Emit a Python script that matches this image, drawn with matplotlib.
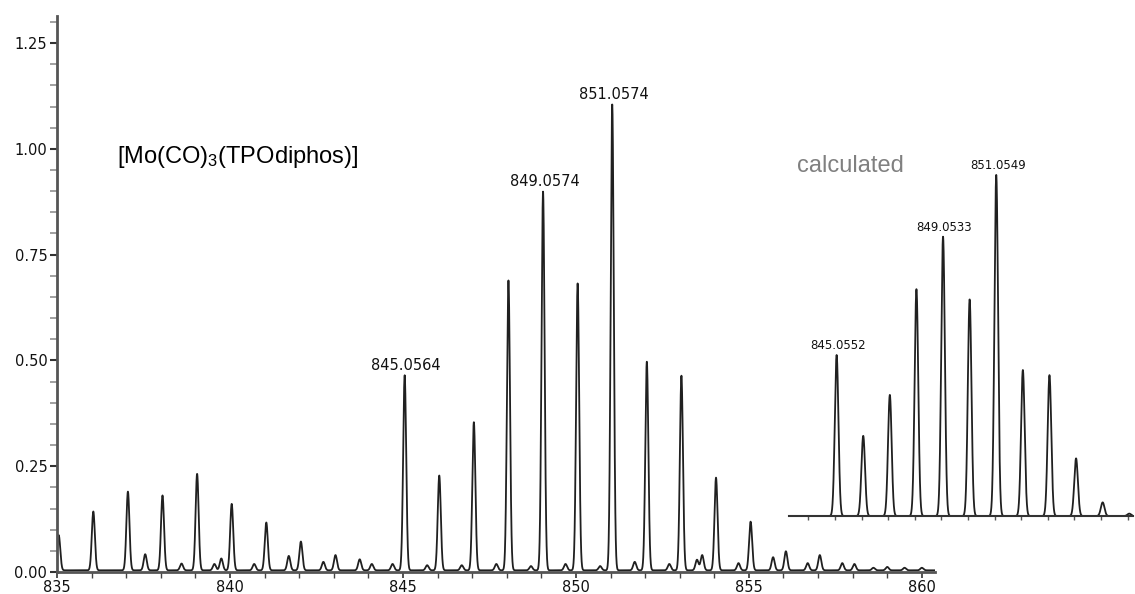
import numpy as np
import matplotlib
matplotlib.use("Agg")
import matplotlib.pyplot as plt
from matplotlib.ticker import MultipleLocator, FormatStrFormatter

# ---------------- data ----------------
# measured spectrum: peak centres (m/z) and intensities
meas_mz = [835.05, 836.05, 837.05, 837.55, 838.05, 838.6, 839.05, 839.55, 839.75,
           840.05, 840.7, 841.05, 841.7, 842.05, 842.7, 843.05, 843.75, 844.1, 844.7,
           845.05, 845.7, 846.05, 846.7, 847.05, 847.7, 848.05, 848.7, 849.05, 849.7,
           850.05, 850.7, 851.05, 851.7, 852.05, 852.7, 853.05, 853.5, 853.65, 854.05,
           854.7, 855.05, 855.7, 856.07, 856.7, 857.05, 857.7, 858.05, 858.6, 859.0,
           859.5, 860.0]
meas_int = [0.083, 0.139, 0.186, 0.038, 0.177, 0.016, 0.228, 0.015, 0.028,
            0.157, 0.015, 0.113, 0.034, 0.068, 0.020, 0.036, 0.026, 0.015, 0.015,
            0.461, 0.012, 0.224, 0.012, 0.350, 0.015, 0.685, 0.010, 0.895, 0.015,
            0.678, 0.010, 1.101, 0.020, 0.493, 0.015, 0.460, 0.025, 0.036, 0.219,
            0.017, 0.115, 0.031, 0.045, 0.017, 0.036, 0.017, 0.015, 0.006, 0.008,
            0.006, 0.006]
meas_labels = {845.05: "845.0564", 849.05: "849.0574", 851.05: "851.0574"}

# calculated isotope pattern (relative intensity, %)
calc_mz = [845.06, 846.06, 847.06, 848.06, 849.06, 850.06, 851.06, 852.06, 853.06,
           854.06, 855.06, 856.06]
calc_int = [47.2, 23.5, 35.5, 66.5, 81.9, 63.5, 100.0, 42.8, 41.3, 16.9, 4.0, 0.7]
calc_labels = {845.06: "845.0552", 849.06: "849.0533", 851.06: "851.0549"}

title_text = "[Mo(CO)$_3$(TPOdiphos)]"
calc_text = "calculated"

# ---------------- style ----------------
plt.rcParams['mathtext.default'] = 'regular'
W, H = 1135, 594
fig = plt.figure(figsize=(W / 100, H / 100), dpi=100)

def px_axes(left, top, right, bottom):
    return [left / W, 1 - bottom / H, (right - left) / W, (bottom - top) / H]

spine_col = '#555555'
ax = fig.add_axes(px_axes(57, 16, 935, 572))
ax.set_xlim(835, 860.38)
ax.set_ylim(0, 1.314)

def profile(centres, heights, grid, sigma, base=0.0):
    y = np.full_like(grid, base)
    for c, h in zip(centres, heights):
        y += h * np.exp(-0.5 * ((grid - c) / sigma) ** 2)
    return y

xg = np.linspace(834.8, 860.6, 8000)
ax.plot(xg, profile(meas_mz, meas_int, xg, 0.044, 0.004), color='#202020', lw=1.3)

for s in ['top', 'right']:
    ax.spines[s].set_visible(False)
for s in ['left', 'bottom']:
    ax.spines[s].set_color(spine_col)
    ax.spines[s].set_linewidth(2)

ax.yaxis.set_major_locator(MultipleLocator(0.25))
ax.yaxis.set_minor_locator(MultipleLocator(0.05))
ax.yaxis.set_major_formatter(FormatStrFormatter('%.2f'))
ax.xaxis.set_major_locator(MultipleLocator(5))
ax.xaxis.set_minor_locator(MultipleLocator(1))
ax.tick_params(axis='y', which='major', length=5, width=1.5, color='#333333',
               labelsize=10.5, pad=2, labelcolor='#111111')
ax.tick_params(axis='y', which='minor', length=5, width=1.3, color='#999999')
ax.tick_params(axis='x', which='major', length=4, width=1.2, color='#333333',
               labelsize=10.5, pad=2, labelcolor='#111111')
ax.tick_params(axis='x', which='minor', length=4, width=1.0, color='#444444')

for m, h in zip(meas_mz, meas_int):
    if m in meas_labels:
        ax.annotate(meas_labels[m], (m, h), xytext=(1, 3), textcoords='offset points',
                    ha='center', va='bottom', fontsize=10.5, color='#111111')

fig.text(117 / W, 1 - 157 / H, title_text, fontsize=17, family='Liberation Sans',
         ha='left', va='center', color='black')

# ---------------- inset (calculated) ----------------
ax2 = fig.add_axes(px_axes(789, 150, 1133, 516))
ax2.patch.set_alpha(0)
ax2.set_xlim(843.27, 856.2)
ax2.set_ylim(0, 107.3)
xg2 = np.linspace(843.2, 856.3, 6000)
ax2.plot(xg2, profile(calc_mz, calc_int, xg2, 0.068), color='#202020', lw=1.3)
for s in ['top', 'right', 'left']:
    ax2.spines[s].set_visible(False)
ax2.spines['bottom'].set_color('#333333')
ax2.spines['bottom'].set_linewidth(1.5)
ax2.set_yticks([])
ax2.xaxis.set_major_locator(MultipleLocator(1))
ax2.tick_params(axis='x', which='major', length=3, width=1.0, color='#555555',
                labelbottom=False)
for m, h in zip(calc_mz, calc_int):
    if m in calc_labels:
        ax2.annotate(calc_labels[m], (m, h), xytext=(1, 2), textcoords='offset points',
                     ha='center', va='bottom', fontsize=8.5, color='#111111')

fig.text(797 / W, 1 - 166 / H, calc_text, fontsize=17, family='Liberation Sans',
         ha='left', va='center', color='#808080')

fig.savefig('out.png', dpi=100)
